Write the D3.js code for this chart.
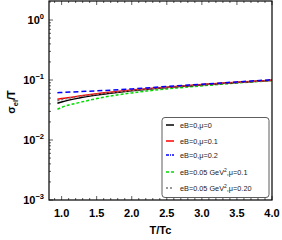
<!DOCTYPE html>
<html>
<head>
<meta charset="utf-8">
<script src="https://cdn.jsdelivr.net/npm/d3@7"></script>
<style>
  body { margin: 0; background: #fff; }
  svg { font-family: "Liberation Sans", Arial, sans-serif; }
</style>
</head>
<body>
<div id="chart"></div>
<script>
// --- data ---
const tValues = [0.94, 1.0, 1.25, 1.5, 2.0, 2.5, 3.0, 3.5, 4.0];
const black = [0.041, 0.043, 0.050, 0.056, 0.066, 0.075, 0.083, 0.091, 0.099];
const red   = [0.0477, 0.049, 0.054, 0.059, 0.068, 0.076, 0.084, 0.092, 0.099];
const gray  = [0.045, 0.047, 0.053, 0.058, 0.067, 0.0755, 0.0835, 0.091, 0.099];
const blue  = [0.0614, 0.062, 0.064, 0.066, 0.071, 0.078, 0.085, 0.093, 0.101];
const green = [0.0325, 0.035, 0.042, 0.049, 0.061, 0.071, 0.080, 0.089, 0.098];

const xTicks = [1.0, 1.5, 2.0, 2.5, 3.0, 3.5, 4.0];
const yTicks = [1e-3, 1e-2, 1e-1, 1];
const yExps = ["-3", "-2", "-1", "0"];

const seriesList = [
  { name: "black", vals: black, color: "#000", dash: null, legDash: null, label: "eB=0,μ=0" },
  { name: "red", vals: red, color: "#ff0000", dash: null, legDash: null, label: "eB=0,μ=0.1" },
  { name: "blue", vals: blue, color: "#0000ff", dash: "5,3", legDash: "3,1,1,1", label: "eB=0,μ=0.2" },
  { name: "green", vals: green, color: "#00dd00", dash: "3,2", legDash: "3,2", label: "eB=0.05 GeV2,μ=0.1" },
  { name: "gray", vals: gray, color: "#777", dash: "2,2", legDash: "2,2", label: "eB=0.05 GeV2,μ=0.20" }
];
// draw order (green under, blue on top)
const drawOrder = ["green", "black", "red", "gray", "blue"];

const W = 282, H = 240;
const m = { left: 49, right: 10, top: 1, bottom: 40 };

const svg = d3.select("#chart").append("svg").attr("width", W).attr("height", H);

const x = d3.scaleLinear().domain([0.82, 4.0]).range([m.left, W - m.right]);
const y = d3.scaleLog().domain([1e-3, Math.pow(10, 0.317)]).range([H - m.bottom, m.top]);

// clip
svg.append("clipPath").attr("id", "clip").append("rect")
  .attr("x", m.left).attr("y", m.top).attr("width", W - m.left - m.right).attr("height", H - m.top - m.bottom);

// curves
const line = d3.line().x(d => x(d[0])).y(d => y(d[1])).curve(d3.curveMonotoneX);
const g = svg.append("g").attr("clip-path", "url(#clip)");
drawOrder.forEach(n => {
  const s = seriesList.find(d => d.name === n);
  g.append("path")
    .datum(tValues.map((t, i) => [t, s.vals[i]]))
    .attr("d", line)
    .attr("fill", "none")
    .attr("stroke", s.color)
    .attr("stroke-width", 1.5)
    .attr("stroke-dasharray", s.dash);
});

// axes: ticks inside
const x0 = m.left, x1 = W - m.right, y0 = H - m.bottom, y1 = m.top;
const tickG = svg.append("g").attr("stroke", "#333").attr("stroke-width", 0.8);

// x ticks major + minor, bottom and top
const xMinor = d3.range(0.9, 4.001, 0.1).filter(v => Math.abs(v * 2 - Math.round(v * 2)) > 0.01);
xTicks.forEach(v => {
  tickG.append("line").attr("x1", x(v)).attr("x2", x(v)).attr("y1", y0).attr("y2", y0 - 4);
  tickG.append("line").attr("x1", x(v)).attr("x2", x(v)).attr("y1", y1).attr("y2", y1 + 4);
});
xMinor.forEach(v => {
  tickG.append("line").attr("x1", x(v)).attr("x2", x(v)).attr("y1", y0).attr("y2", y0 - 2);
  tickG.append("line").attr("x1", x(v)).attr("x2", x(v)).attr("y1", y1).attr("y2", y1 + 2);
});

// y ticks major + minor, left
yTicks.forEach(v => {
  tickG.append("line").attr("x1", x0).attr("x2", x0 + 4).attr("y1", y(v)).attr("y2", y(v));
});
[1e-3, 1e-2, 1e-1, 1].forEach(dec => {
  d3.range(2, 10).forEach(k => {
    const v = dec * k;
    if (v > y.domain()[1]) return;
    tickG.append("line").attr("x1", x0).attr("x2", x0 + 2).attr("y1", y(v)).attr("y2", y(v));
  });
});

// frame
svg.append("rect").attr("x", x0).attr("y", y1).attr("width", x1 - x0).attr("height", y0 - y1)
  .attr("fill", "none").attr("stroke", "#000").attr("stroke-width", 1.2);

// x tick labels
xTicks.forEach(v => {
  svg.append("text").attr("x", x(v)).attr("y", 217).attr("text-anchor", "middle")
    .attr("font-size", 11).attr("font-weight", "bold").text(v.toFixed(1));
});

// y tick labels: 10^n
yTicks.forEach((v, i) => {
  const t = svg.append("text").attr("x", 44).attr("y", y(v) + 4).attr("text-anchor", "end")
    .attr("font-size", 11).attr("font-weight", "bold");
  t.append("tspan").text("10");
  t.append("tspan").attr("font-size", 7.5).attr("dy", -5).text(yExps[i].replace("-", "−"));
});

// axis titles
svg.append("text").attr("x", (x0 + x1) / 2).attr("y", 234).attr("text-anchor", "middle")
  .attr("font-size", 11).attr("font-weight", "bold").text("T/Tc");

const yt = svg.append("text").attr("transform", "translate(15,102) rotate(-90)")
  .attr("text-anchor", "middle").attr("font-size", 11).attr("font-weight", "bold");
yt.append("tspan").text("σ");
yt.append("tspan").attr("font-size", 7.5).attr("dy", 3).text("el");
yt.append("tspan").attr("dy", -3).text("/T");

// legend
const lg = svg.append("g");
lg.append("rect").attr("x", 162).attr("y", 117.5).attr("width", 107).attr("height", 80)
  .attr("rx", 3).attr("fill", "#fff").attr("stroke", "#333").attr("stroke-width", 0.8);
const legY = [125, 141, 155, 172, 188];
seriesList.forEach((s, i) => {
  const ly = legY[i];
  lg.append("line").attr("x1", 166).attr("x2", 174).attr("y1", ly).attr("y2", ly)
    .attr("stroke", s.color).attr("stroke-width", 1.5)
    .attr("stroke-dasharray", s.legDash);
  const t = lg.append("text").attr("x", 180).attr("y", ly + 2.5).attr("font-size", 7.3).attr("fill", "#222");
  if (s.label.includes("GeV2")) {
    const parts = s.label.split("GeV2");
    t.append("tspan").text(parts[0] + "GeV");
    t.append("tspan").attr("font-size", 5).attr("dy", -3).text("2");
    t.append("tspan").attr("dy", 3).text(parts[1]);
  } else {
    t.text(s.label);
  }
});
</script>
</body>
</html>
